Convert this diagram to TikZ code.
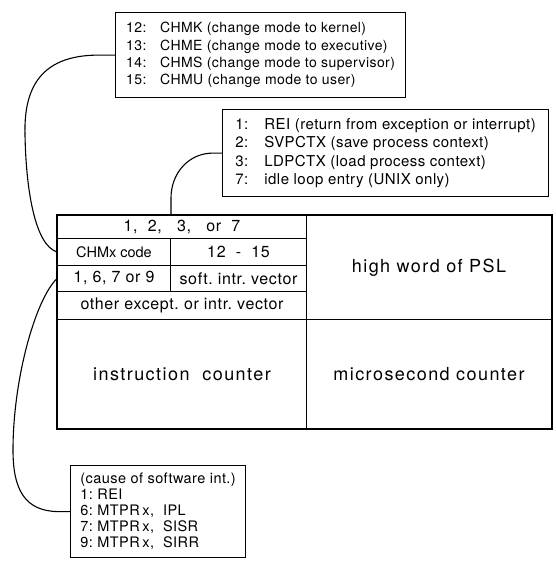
\documentclass[tikz,border=0pt]{standalone}
\usepackage{fontspec}
\setmainfont{TeX Gyre Heros}
\newfontfamily\notefont[LetterSpace=3]{TeX Gyre Heros}
\newfontfamily\cellfont[LetterSpace=4]{TeX Gyre Heros}
\newfontfamily\bigcellfont[LetterSpace=8]{TeX Gyre Heros}
\usetikzlibrary{positioning}

\tikzset{
  cell/.style={draw, line width=1pt, inner sep=0pt, anchor=north west,
    font=\cellfont\fontsize{16}{19}\selectfont},
  bigcell/.style={cell, font=\bigcellfont\fontsize{18}{21}\selectfont},
  notebox/.style={draw, line width=1.2pt, inner sep=0pt, anchor=north west, align=left},
  link/.style={line width=1.1pt},
}

\begin{document}
\begin{tikzpicture}[x=1pt,y=1pt,yscale=-1,xscale=1]
\useasboundingbox (0,0) rectangle (556,562);

%Shape: Rectangle [change mode notes]
\node[notebox, minimum width=290, minimum height=85,
      font=\notefont\fontsize{14}{17.3}\selectfont] (chm) at (115,12)
  {\makebox[34pt][l]{12:}CHMK (change mode to kernel)\\
   \makebox[34pt][l]{13:}CHME (change mode to executive)\\
   \makebox[34pt][l]{14:}CHMS (change mode to supervisor)\\
   \makebox[34pt][l]{15:}CHMU (change mode to user)};
%Shape: Rectangle [context notes]
\node[notebox, minimum width=326, minimum height=87,
      font=\notefont\fontsize{15}{18.3}\selectfont] (ctx) at (222,109)
  {\makebox[29pt][l]{1:}REI (return from exception or interrupt)\\
   \makebox[29pt][l]{2:}SVPCTX (save process context)\\
   \makebox[29pt][l]{3:}LDPCTX (load process context)\\
   \makebox[29pt][l]{7:}idle loop entry (UNIX only)};
%Shape: Rectangle [software int. notes]
\node[notebox, minimum width=175, minimum height=92,
      font=\notefont\fontsize{14.5}{16}\selectfont] (cause) at (70,465)
  {(cause of software int.)\\
   \makebox[17pt][l]{1:}REI\\
   \makebox[17pt][l]{6:}\makebox[45pt][l]{MTPR}x,\ \ IPL\\
   \makebox[17pt][l]{7:}\makebox[45pt][l]{MTPR}x,\ \ SISR\\
   \makebox[17pt][l]{9:}\makebox[45pt][l]{MTPR}x,\ \ SIRR};

% Table cells
\node[cell, minimum width=249, minimum height=23] (r1) at (57,215) {1,\ \ 2,\ \ \ 3,\ \ \ or\ \ 7};
\node[cell, minimum width=113, minimum height=27,
      font=\fontsize{14.5}{17}\selectfont] (r2a) at (57,238) {CHMx code};
\node[cell, minimum width=136, minimum height=27] (r2b) at (170,238) {12\ \ -\ \ 15};
\node[cell, minimum width=113, minimum height=26] (r3a) at (57,265) {1,\ 6,\ 7\ or\ 9};
\node[cell, minimum width=136, minimum height=26] (r3b) at (170,265) {soft.\ intr.\ vector};
\node[cell, minimum width=249, minimum height=28] (r4) at (57,291) {other except.\ or intr.\ vector};
\node[bigcell, minimum width=245, minimum height=104] (psl) at (306,215) {high word of PSL};
\node[bigcell, minimum width=249, minimum height=109] (ic) at (57,319) {instruction\ \ counter};
\node[bigcell, minimum width=245, minimum height=109] (usc) at (306,319) {microsecond counter};
%Shape: Rectangle [outer frame]
\draw[line width=2.4pt] (r1.north west) rectangle (usc.south east);

\coordinate (tap) at (171,215);

%Curve Lines
\draw[link] (chm.west) -- ++(-15,0) .. controls (35,54.5) and (24,95) .. (25,135)
  .. controls (26,190) and (35,245) .. (r2a.west);
%Curve Lines
\draw[link] (ctx.west) -- ++(-8,0) .. controls (189,152.5) and (171,173) .. (171,198) -- (tap);
%Curve Lines
\draw[link] (cause.west) -- ++(-12,0) .. controls (25,511) and (13,490) .. (13,450)
  .. controls (13,380) and (35,300) .. (r3a.west);

\end{tikzpicture}
\end{document}
